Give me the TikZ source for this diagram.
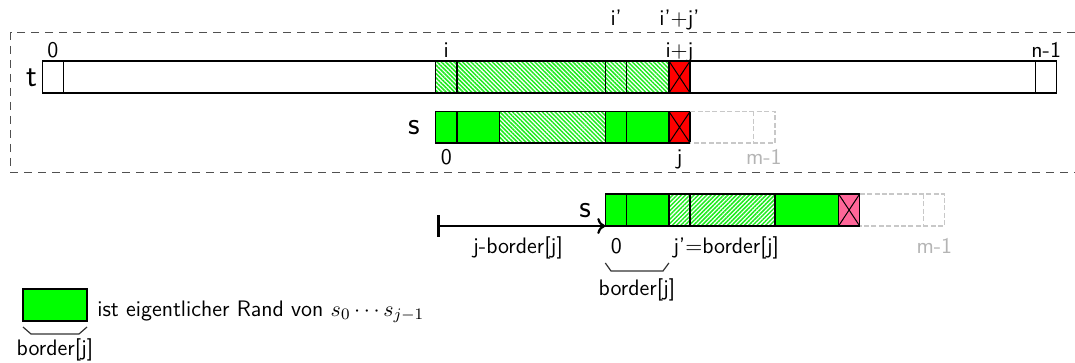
\documentclass[tikz,border=0pt]{standalone}
\usetikzlibrary{patterns.meta,arrows.meta}

\definecolor{cellgreen}{RGB}{0,255,0}
\definecolor{hatchgreen}{RGB}{30,235,30}
\definecolor{crossred}{RGB}{255,0,0}
\definecolor{crosspink}{RGB}{255,102,153}
\definecolor{ghost}{RGB}{200,200,200}
\definecolor{ghosttext}{RGB}{180,180,180}
\definecolor{framegray}{RGB}{80,80,80}

\tikzset{
  cellline/.style={draw=black, line width=0.7pt},
  plain/.style={cellline, fill=white},
  full/.style={cellline, fill=cellgreen},
  hatchback/.style={cellline, pattern={Lines[angle=-45,distance=1.5pt,line width=0.75pt]}, pattern color=hatchgreen},
  hatchfwd/.style={cellline, pattern={Lines[angle=45,distance=1.5pt,line width=0.75pt]}, pattern color=hatchgreen},
  crossline/.style={draw=black, line width=0.5pt},
  ghostcell/.style={draw=ghost, line width=0.6pt, dash pattern=on 2.5pt off 1.2pt},
  frame/.style={draw=framegray, line width=0.6pt, dash pattern=on 4pt off 3pt},
  lbl/.style={font=\sffamily\fontsize{11.2}{13}\selectfont, inner sep=0pt, anchor=base},
  big/.style={font=\sffamily\fontsize{16}{19}\selectfont, inner sep=0pt, anchor=base},
  faint/.style={lbl, text=ghosttext},
  bracket/.style={draw=black!80, line width=0.6pt},
  shiftarrow/.style={draw=black, line width=1.1pt, {Bar[width=11pt,line width=1.6pt]}-{To[length=4pt,width=8pt]}},
}

% crossed cell: left right top bottom colour
\newcommand\xcell[5]{%
  \draw[cellline, fill=#5] (#1,#3) rectangle (#2,#4);
  \draw[crossline] (#1,#3) -- (#2,#4) (#1,#4) -- (#2,#3);}

\begin{document}
\begin{tikzpicture}[x=0.5pt, y=-0.5pt]
\useasboundingbox (0,0) rectangle (1075,363);

% dashed frame round text and pattern
\draw[frame] (1075,32.3) -| (10.7,172.3) -- (1075,172.3);

% ---------- text t ----------
\draw[plain] (42.3,61) rectangle (1056.7,93);
\draw[cellline] (63.3,61) -- (63.3,93);
\draw[cellline] (1035.7,61) -- (1035.7,93);
\draw[hatchback] (435.7,61) rectangle (456.9,93);
\draw[hatchback] (456.9,61) rectangle (605.3,93);
\draw[hatchback] (605.3,61) rectangle (626.5,93);
\draw[hatchback] (626.5,61) rectangle (668.9,93);
\xcell{668.9}{690.1}{61}{93}{crossred}

\node[big] (tname) at (31.5,87) {t};
\node[lbl] (t0) at (52.8,58) {0};
\node[lbl] (ti) at (446.3,58) {i};
\node[lbl] (tij) at (679.5,58) {i$+$j};
\node[lbl] (tn) at (1046.2,58) {n-1};
\node[lbl] (tip) at (616.2,26) {i'};
\node[lbl] (tipjp) at (679.5,26) {i'$+$j'};

% ---------- pattern s aligned at i ----------
\draw[full] (435.7,111.5) rectangle (456.9,143);
\draw[full] (456.9,111.5) rectangle (499.3,143);
\draw[hatchback] (499.3,111.5) rectangle (605.3,143);
\draw[full] (605.3,111.5) rectangle (626.5,143);
\draw[full] (626.5,111.5) rectangle (668.9,143);
\xcell{668.9}{690.1}{111.5}{143}{crossred}
\draw[ghostcell] (690.1,111.5) -- (774.9,111.5) -- (774.9,143) -- (690.1,143);
\draw[ghostcell] (753.7,111.5) -- (753.7,143);

\node[big] (sname) at (414,135) {s};
\node[lbl] (s0) at (446.3,165) {0};
\node[lbl] (sj) at (679.5,165) {j};
\node[faint] (sm) at (763.8,165) {m-1};

% ---------- pattern s shifted by j-border[j] ----------
\draw[full] (605.3,194) rectangle (626.5,226);
\draw[full] (626.5,194) rectangle (668.9,226);
\draw[hatchfwd] (668.9,194) rectangle (690.1,226);
\draw[hatchfwd] (690.1,194) rectangle (774.9,226);
\draw[full] (774.9,194) rectangle (838.5,226);
\xcell{838.5}{859.7}{194}{226}{crosspink}
\draw[ghostcell] (859.7,194) -- (944.5,194) -- (944.5,226) -- (859.7,226);
\draw[ghostcell] (923.3,194) -- (923.3,226);

\coordinate (shiftstart) at (437,226);
\coordinate (shiftorigin) at (605.3,226);
\draw[shiftarrow] (shiftstart) -- (shiftorigin);

\node[big] (s2name) at (585,218) {s};
\node[lbl] (shiftlbl) at (518,253) {j-border[j]};
\node[lbl] (s20) at (616.3,253) {0};
\node[lbl, anchor=base west] (s2jp) at (673,253) {j'$=$border[j]};
\node[faint] (s2m) at (934.3,253) {m-1};

\draw[bracket] (605.3,263) -- (611,271) -- (663,271) -- (668.9,263);
\node[lbl] (blen) at (637,295) {border[j]};

% ---------- legend ----------
\draw[full] (23,289) rectangle (87,321);
\draw[bracket] (23,327) -- (31,334) -- (79,334) -- (87,327);
\node[lbl] (legb) at (55,355) {border[j]};
\node[lbl, anchor=base west] (legtext) at (97,316) {ist eigentlicher Rand von $s_0\cdots s_{j-1}$};
\end{tikzpicture}
\end{document}
